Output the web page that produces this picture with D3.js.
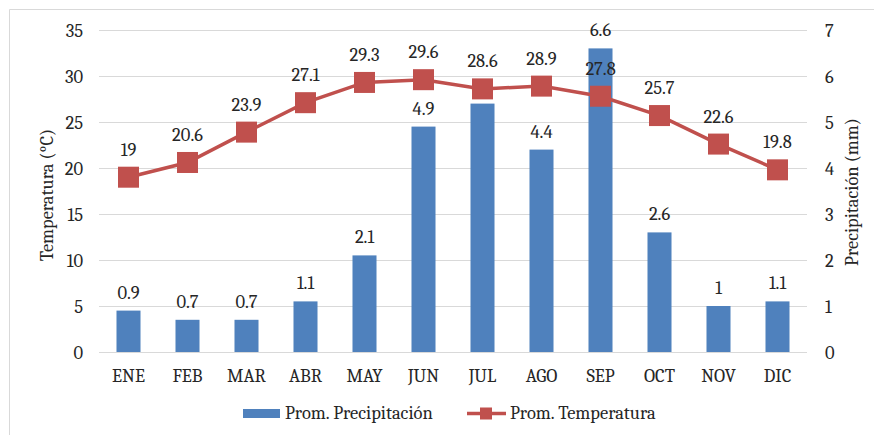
<!DOCTYPE html>
<html>
<head>
<meta charset="utf-8">
<script src="https://cdn.jsdelivr.net/npm/d3@7"></script>
<style>
  body { margin: 0; background: #fff; }
  svg text { font-family: Cambria, "Liberation Serif", serif; fill: #262626; }
</style>
</head>
<body>
<div class="container"></div>
<script>
// data
const months = ['ENE','FEB','MAR','ABR','MAY','JUN','JUL','AGO','SEP','OCT','NOV','DIC']
const precipitacion = [0.9, 0.7, 0.7, 1.1, 2.1, 4.9, 5.4, 4.4, 6.6, 2.6, 1, 1.1]
const temperatura = [19, 20.6, 23.9, 27.1, 29.3, 29.6, 28.6, 28.9, 27.8, 25.7, 22.6, 19.8]
const tempTicks = [0, 5, 10, 15, 20, 25, 30, 35]
const precTicks = [0, 1, 2, 3, 4, 5, 6, 7]

const width = 874
const height = 435
const margin = {top: 30, right: 67, bottom: 83, left: 99}
const fontSize = 18.5

const barColor = '#4F81BD'
const lineColor = '#C0504D'

const svg = d3.select('.container')
    .append('svg')
    .attr('width', width)
    .attr('height', height)

// chart border (only top and left show in the crop)
svg.append('path')
    .attr('d', `M9.5,${height} V9.5 H${width}`)
    .attr('fill', 'none')
    .attr('stroke', '#D9D9D9')
    .attr('stroke-width', 1)

const x = d3.scaleBand()
    .domain(months)
    .range([margin.left, width - margin.right])
    .paddingInner(0.593)
    .paddingOuter(0.2965)

const yTemp = d3.scaleLinear()
    .domain([0, 35])
    .range([height - margin.bottom, margin.top])

const yPrec = d3.scaleLinear()
    .domain([0, 7])
    .range([height - margin.bottom, margin.top])

// gridlines
svg.append('g')
    .selectAll('line')
    .data(tempTicks)
    .enter()
    .append('line')
    .attr('x1', margin.left)
    .attr('x2', width - margin.right)
    .attr('y1', d => Math.round(yTemp(d)) + 0.5)
    .attr('y2', d => Math.round(yTemp(d)) + 0.5)
    .attr('stroke', '#D9D9D9')
    .attr('stroke-width', 1)

// left axis
const leftAxis = svg.append('g')
    .attr('transform', `translate(${margin.left}, 0)`)
    .call(d3.axisLeft(yTemp).tickValues(tempTicks).tickSize(0).tickPadding(16))
leftAxis.select('.domain').remove()
leftAxis.selectAll('text').style('font-size', fontSize + 'px').attr('dy', '0.35em')

// right axis
const rightAxis = svg.append('g')
    .attr('transform', `translate(${width - margin.right}, 0)`)
    .call(d3.axisRight(yPrec).tickValues(precTicks).tickFormat(d3.format('d')).tickSize(0).tickPadding(18))
rightAxis.select('.domain').remove()
rightAxis.selectAll('text').style('font-size', fontSize + 'px').attr('dy', '0.35em')

// bottom axis
const bottomAxis = svg.append('g')
    .attr('transform', `translate(0, ${height - margin.bottom})`)
    .call(d3.axisBottom(x).tickSize(0).tickPadding(17))
bottomAxis.select('.domain').remove()
bottomAxis.selectAll('text').style('font-size', fontSize + 'px')

// axis titles
svg.append('text')
    .attr('transform', `translate(53, ${(margin.top + height - margin.bottom) / 2 + 4}) rotate(-90)`)
    .attr('text-anchor', 'middle')
    .style('font-size', fontSize + 'px')
    .text('Temperatura (°C)')

svg.append('text')
    .attr('transform', `translate(858, ${(margin.top + height - margin.bottom) / 2 + 1}) rotate(-90)`)
    .attr('text-anchor', 'middle')
    .style('font-size', fontSize + 'px')
    .text('Precipitación (mm)')

// bars
svg.append('g')
    .selectAll('rect')
    .data(precipitacion)
    .enter()
    .append('rect')
    .attr('x', (d, i) => x(months[i]))
    .attr('y', d => yPrec(d))
    .attr('width', x.bandwidth())
    .attr('height', d => yPrec(0) - yPrec(d))
    .attr('fill', barColor)

svg.append('g')
    .selectAll('text')
    .data(precipitacion)
    .enter()
    .append('text')
    .attr('x', (d, i) => x(months[i]) + x.bandwidth() / 2)
    .attr('y', d => yPrec(d) - 12)
    .attr('text-anchor', 'middle')
    .style('font-size', fontSize + 'px')
    .text(d => d)

// temperature line
const cx = i => x(months[i]) + x.bandwidth() / 2
const line = d3.line()
    .x((d, i) => cx(i))
    .y(d => yTemp(d))

svg.append('path')
    .datum(temperatura)
    .attr('d', line)
    .attr('fill', 'none')
    .attr('stroke', lineColor)
    .attr('stroke-width', 3.5)

const mk = 21
svg.append('g')
    .selectAll('rect')
    .data(temperatura)
    .enter()
    .append('rect')
    .attr('x', (d, i) => cx(i) - mk / 2)
    .attr('y', d => yTemp(d) - mk / 2)
    .attr('width', mk)
    .attr('height', mk)
    .attr('fill', lineColor)

svg.append('g')
    .selectAll('text')
    .data(temperatura)
    .enter()
    .append('text')
    .attr('x', (d, i) => cx(i))
    .attr('y', d => yTemp(d) - 21.5)
    .attr('text-anchor', 'middle')
    .style('font-size', fontSize + 'px')
    .text(d => d)

// legend
const legend = svg.append('g')
legend.append('rect')
    .attr('x', 243).attr('y', 409)
    .attr('width', 37).attr('height', 9)
    .attr('fill', barColor)
legend.append('text')
    .attr('x', 285).attr('y', 419)
    .style('font-size', fontSize + 'px')
    .text('Prom. Precipitación')

legend.append('line')
    .attr('x1', 467).attr('x2', 506)
    .attr('y1', 413.5).attr('y2', 413.5)
    .attr('stroke', lineColor)
    .attr('stroke-width', 3.5)
legend.append('rect')
    .attr('x', 480).attr('y', 407.5)
    .attr('width', 12).attr('height', 12)
    .attr('fill', lineColor)
legend.append('text')
    .attr('x', 510).attr('y', 419)
    .style('font-size', fontSize + 'px')
    .text('Prom. Temperatura')
</script>
</body>
</html>
